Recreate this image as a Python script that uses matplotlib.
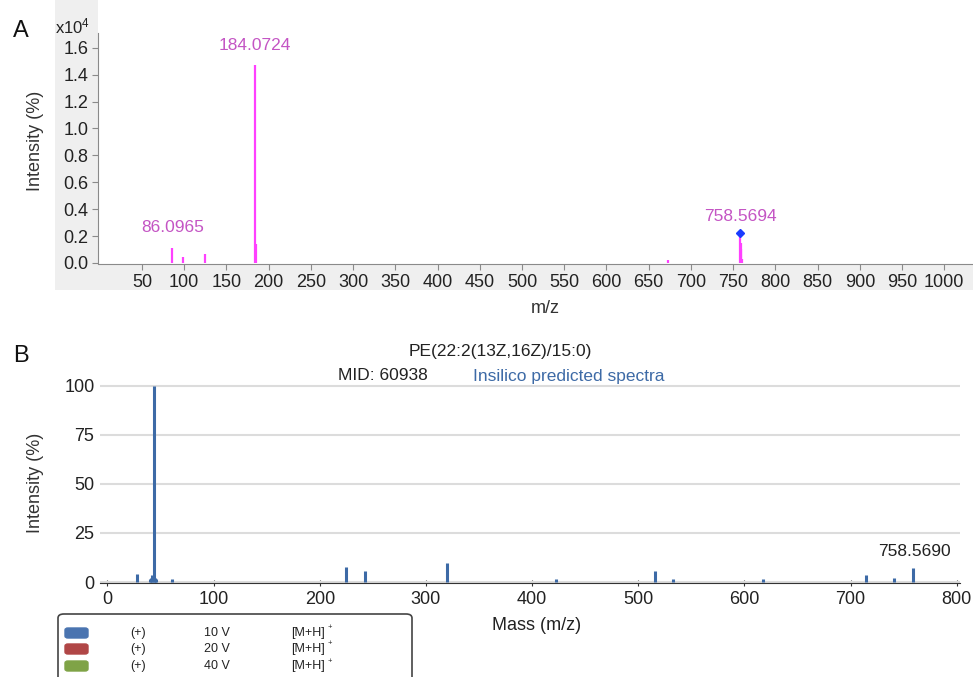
import matplotlib
matplotlib.use("Agg")
import matplotlib.pyplot as plt
import matplotlib.ticker as ticker
from matplotlib.patches import Rectangle, FancyBboxPatch

plt.rcParams['font.family'] = ['Liberation Sans', 'DejaVu Sans']
plt.rcParams['mathtext.fontset'] = 'custom'
plt.rcParams['mathtext.rm'] = 'Liberation Sans'
plt.rcParams['mathtext.default'] = 'regular'

# panel A: measured MS/MS spectrum (intensity in x10^4)
mz_a = [86.0965, 98.98, 124.99, 184.0724, 185.07, 672.5, 758.5694, 759.2, 759.57, 760.58]
int_a = [0.114, 0.047, 0.067, 1.47, 0.14, 0.02, 0.22, 0.15, 0.10, 0.03]
labels_a = [(86.0965, 0.114, "86.0965"), (184.0724, 1.47, "184.0724"),
            (758.5694, 0.22, "758.5694")]
precursor_a = (758.5694, 0.22)

# panel B: in-silico predicted spectrum (relative intensity %)
mz_b = [28, 40, 41, 42, 43.5, 44.5, 45.5, 61, 224.6, 243, 319.7, 422.6, 515.4,
        533, 617.5, 714, 740.5, 758.569]
int_b = [4, 1.5, 2, 3.5, 100, 2, 1.5, 1.5, 7.7, 5.8, 9.7, 1.5, 5.8,
         1.7, 1.5, 3.7, 1.9, 7.3]

legend_rows = [("(+)", "10 V", "[M+H]", "#4a74b0"),
               ("(+)", "20 V", "[M+H]", "#b04646"),
               ("(+)", "40 V", "[M+H]", "#7fa346")]

W, H = 973, 677
fig = plt.figure(figsize=(W / 100, H / 100), dpi=100)


def fx(p):
    return p / W


def fy(p):
    return 1 - p / H


gray = '#efefef'

# ---------------- panel A ----------------
axA = fig.add_axes([fx(98), fy(264), 1 - fx(98), fy(33) - fy(264)])
# gray frame: left strip and strip under the x axis
axA.add_patch(Rectangle((-43 / 875, -26 / 231), 43 / 875, (26 + 264) / 231,
                        transform=axA.transAxes, clip_on=False, color=gray, lw=0, zorder=-10))
axA.add_patch(Rectangle((-43 / 875, -26 / 231), (43 + 875) / 875, 26 / 231,
                        transform=axA.transAxes, clip_on=False, color=gray, lw=0, zorder=-10))
pink = '#ff40ff'
axA.vlines(mz_a, 0, int_a, color=pink, lw=1.6)
axA.plot([precursor_a[0]], [precursor_a[1]], marker='D', ms=4.5, color='#1a3cff', zorder=5)
for x, y, s in labels_a:
    off = 17 if x > 700 else 20
    axA.annotate(s, (x, y), xytext=(0, off), textcoords='offset pixels',
                 ha='center', va='center', fontsize=12.5, color='#c455c4')
axA.set_xlim(-2, 1034)
axA.set_ylim(-0.008, 1.71)
axA.yaxis.set_major_locator(ticker.MultipleLocator(0.2))
axA.yaxis.set_major_formatter(ticker.FormatStrFormatter('%.1f'))
axA.set_xticks(range(50, 1001, 50))
for s in ['top', 'right']:
    axA.spines[s].set_visible(False)
for s in ['left', 'bottom']:
    axA.spines[s].set_color('#8a8a8a')
axA.spines['left'].set_bounds(0, 1.71)
axA.tick_params(axis='both', colors='#8a8a8a', labelcolor='#222222',
                labelsize=13, length=4)
axA.tick_params(axis='x', pad=3)
axA.tick_params(axis='y', pad=3)
fig.text(fx(55), fy(26), "x10$^{4}$", fontsize=12, color='#222222', ha='left', va='center')
fig.text(fx(35), fy(141), "Intensity (%)", rotation=90, fontsize=13, color='#333333',
         ha='center', va='center')
fig.text(fx(545), fy(308), "m/z", fontsize=13, color='#333333', ha='center', va='center')
fig.text(fx(21), fy(31), "A", fontsize=17, color='#111111', ha='center', va='center')

# ---------------- panel B ----------------
axB = fig.add_axes([fx(100), fy(583), fx(960) - fx(100), fy(376) - fy(583)])
blue = '#3d6aa6'
axB.vlines(mz_b, 0, int_b, color=blue, lw=2.2, zorder=3)
axB.set_xlim(-7, 803)
axB.set_ylim(-0.5, 105)
axB.set_xticks(range(0, 801, 100))
axB.set_yticks([0, 25, 50, 75, 100])
axB.grid(axis='y', color='#dcdcdc', lw=1.5)
axB.set_axisbelow(True)
for s in ['top', 'right', 'left']:
    axB.spines[s].set_visible(False)
axB.spines['bottom'].set_color('#333333')
axB.tick_params(axis='x', direction='inout', length=5, colors='#333333',
                labelcolor='#222222', labelsize=13, pad=3)
axB.tick_params(axis='y', length=0, labelcolor='#222222', labelsize=13, pad=4)
axB.annotate("758.5690", (758.569, 7.3), xytext=(2, 16), textcoords='offset pixels',
             ha='center', va='center', fontsize=12.5, color='#222222')
fig.text(fx(500), fy(352), "PE(22:2(13Z,16Z)/15:0)", fontsize=12.5, color='#222222',
         ha='center', va='center')
fig.text(fx(338), fy(376), "MID: 60938", fontsize=12.5, color='#222222',
         ha='left', va='center')
fig.text(fx(473), fy(376), "Insilico predicted spectra", fontsize=12.5, color=blue,
         ha='left', va='center')
fig.text(fx(35), fy(483), "Intensity (%)", rotation=90, fontsize=13, color='#333333',
         ha='center', va='center')
fig.text(fx(537), fy(625), "Mass (m/z)", fontsize=13, color='#222222',
         ha='center', va='center')
fig.text(fx(21), fy(356), "B", fontsize=17, color='#111111', ha='center', va='center')

# legend box (cut off at bottom)
fig.patches.append(FancyBboxPatch((fx(58), fy(690)), fx(412) - fx(58), fy(614) - fy(690),
                                  boxstyle='round,pad=0,rounding_size=0.006',
                                  transform=fig.transFigure, fc='white', ec='#444444',
                                  lw=1.2, zorder=1))
row_y = [633, 649, 666]
for (pol, volt, ion, col), yy in zip(legend_rows, row_y):
    fig.patches.append(FancyBboxPatch((fx(65), fy(yy + 5)), fx(88) - fx(65), fy(yy - 5) - fy(yy + 5),
                                      boxstyle='round,pad=0,rounding_size=0.003',
                                      transform=fig.transFigure, fc=col, ec=col, zorder=2))
    fig.text(fx(138), fy(yy), pol, fontsize=9, ha='center', va='center', color='#222222')
    fig.text(fx(204), fy(yy), volt, fontsize=9, ha='left', va='center', color='#222222')
    fig.text(fx(291), fy(yy), ion, fontsize=9, ha='left', va='center', color='#222222')
    fig.text(fx(328), fy(yy - 5), "+", fontsize=5.5, ha='left', va='center', color='#222222')

fig.savefig('out.png', dpi=100)
